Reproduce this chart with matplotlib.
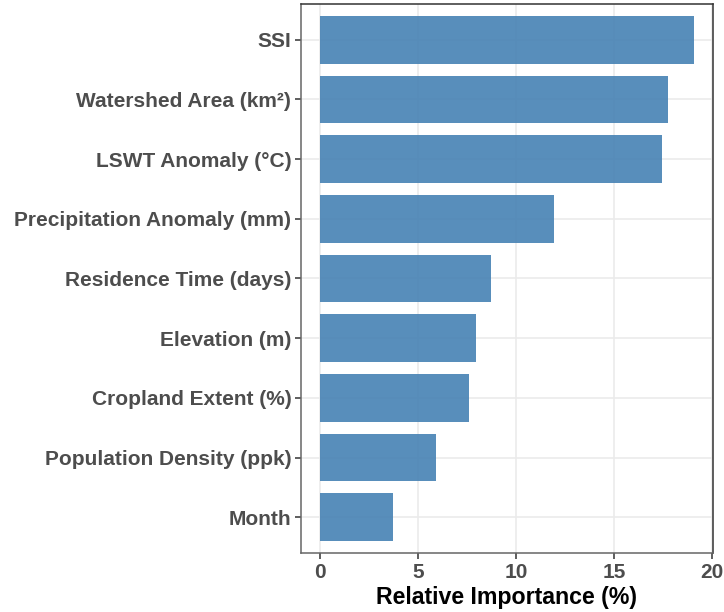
import matplotlib
matplotlib.use("Agg")
import matplotlib.pyplot as plt

categories = ["SSI", "Watershed Area (km²)", "LSWT Anomaly (°C)",
              "Precipitation Anomaly (mm)", "Residence Time (days)",
              "Elevation (m)", "Cropland Extent (%)",
              "Population Density (ppk)", "Month"]
importance = [19.1, 17.75, 17.45, 11.93, 8.72, 7.97, 7.62, 5.92, 3.72]
xticks = [0, 5, 10, 15, 20]

plt.rcParams['font.family'] = ['Liberation Sans', 'DejaVu Sans']

fig = plt.figure(figsize=(7.24, 6.12), dpi=100)
ax = fig.add_axes([301/724, 1-553/612, (713-301)/724, (553-4)/612])

n = len(categories)
ypos = [n - i for i in range(n)]
ax.barh(ypos, importance, height=0.8, color="#4682B4", alpha=0.9, zorder=3)

ax.set_xlim(-0.955, 20.05)
ax.set_ylim(0.4, n + 0.6)
ax.set_xticks(xticks)
ax.set_xticklabels([str(v) for v in xticks])
ax.set_yticks(ypos)
ax.set_yticklabels(categories)

ax.grid(True, color="#EBEBEB", linewidth=1.2, zorder=0)
ax.set_axisbelow(True)

for lbl in ax.get_xticklabels() + ax.get_yticklabels():
    lbl.set_fontweight("bold")
    lbl.set_fontsize(15)
    lbl.set_color("#4D4D4D")
ax.tick_params(axis="both", length=4, width=1.1, color="#333333", pad=3)

ax.set_xlabel("Relative Importance (%)", fontsize=16.7, fontweight="bold",
              color="black", labelpad=3)

for side in ["top", "right"]:
    ax.spines[side].set_color("#333333")
    ax.spines[side].set_linewidth(1.1)
for side in ["left", "bottom"]:
    ax.spines[side].set_color("#666666")
    ax.spines[side].set_linewidth(1.1)

fig.savefig("out.png", dpi=100)
